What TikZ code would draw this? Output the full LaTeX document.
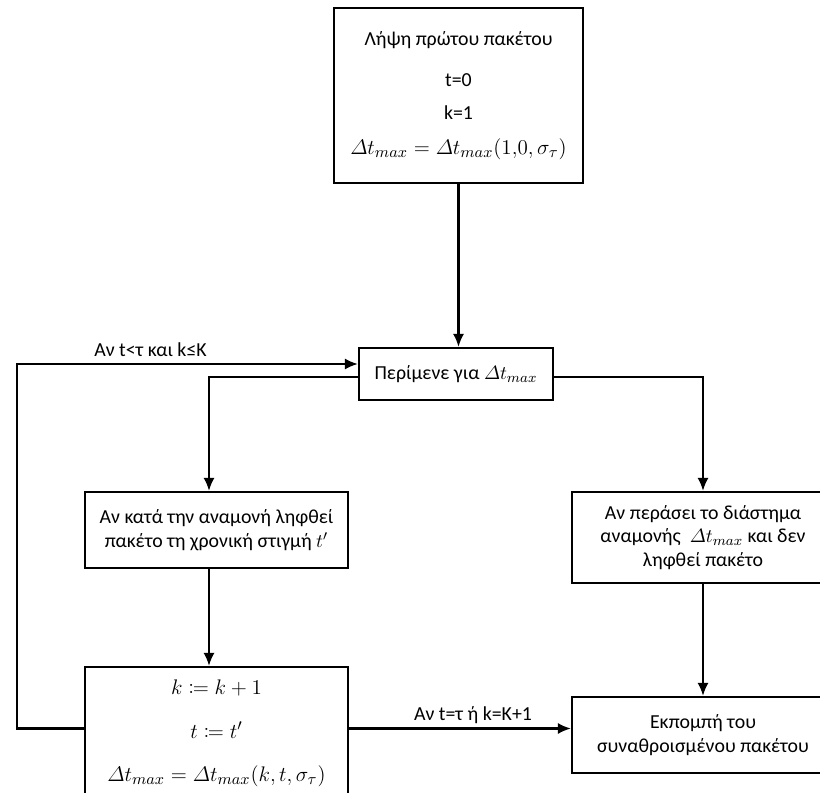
\documentclass[tikz,border=0pt]{standalone}
\usepackage{amsmath,mathtools}
\usepackage{fontspec}
\setmainfont{Carlito}
\usetikzlibrary{arrows.meta}
\newcommand{\dtmax}{\varDelta t_{max}}

\begin{document}
\begin{tikzpicture}[x=0.02cm,y=-0.02cm,font=\fontsize{11.3}{13.5}\selectfont]
\tikzset{box/.style = {shape=rectangle,draw,line width=1.2pt,align=center,inner sep=2pt},
         arr/.style = {line width=1.2pt,-{Latex[length=2.6mm,width=2.2mm]}},
         lbl/.style = {inner sep=1pt},
         bigmath/.style = {font=\fontsize{12.5}{14}\selectfont}}
\useasboundingbox (0,0) rectangle (820,793);
% boxes
\node[box,minimum width=4.98cm,minimum height=3.5cm] (start) at (458.5,95.5)
    {Λήψη πρώτου πακέτου\\[0.35cm] t=0\\[0.19cm] k=1\\[0.22cm]
     {\fontsize{13}{15}\selectfont$\dtmax=\dtmax(1{,}0,\sigma_\tau)$}};
\node[box,minimum width=3.88cm,minimum height=1.04cm] (wait) at (456,374)
    {Περίμενε για $\dtmax$};
\node[box,minimum width=5.26cm,minimum height=1.52cm] (recv) at (216.5,530)
    {Αν κατά την αναμονή ληφθεί\\ πακέτο τη χρονική στιγμή $t'$};
\node[box,minimum width=5.24cm,minimum height=1.82cm] (timeout) at (703,537.5)
    {Αν περάσει το διάστημα\\ αναμονής \ $\dtmax$ και δεν\\ ληφθεί πακέτο};
\node[box,bigmath,minimum width=5.26cm,minimum height=2.66cm] (update) at (216.5,733.5)
    {$k \coloneqq k+1$\\[0.38cm] $t \coloneqq t'$\\[0.38cm]
     $\dtmax=\dtmax(k,t,\sigma_\tau)$};
\node[box,minimum width=5.24cm,minimum height=1.52cm] (send) at (703,735)
    {Εκπομπή του\\ συναθροισμένου πακέτου};
% labels
\node[lbl] (again) at (150.5,350) {Αν t<τ και k≤K};
\node[lbl] (done) at (473,715) {Αν t=τ ή k=K+1};
\coordinate (loop) at (17,364);
% edges
\draw[arr] (start.south) -- (start.south |- wait.north);
\draw[arr] ([yshift=0.1cm]update.west) -| (loop) -- (loop -| wait.west);
\draw[arr] ([yshift=-0.06cm]wait.west) -| ([xshift=-0.15cm]recv.north);
\draw[arr] ([yshift=-0.06cm]wait.east) -| (timeout.north);
\draw[arr] ([xshift=-0.15cm]recv.south) -- ([xshift=-0.15cm]update.north);
\draw[arr] (timeout.south) -- (send.north);
\draw[arr] ([yshift=0.1cm]update.east) -- ([yshift=0.1cm]update.east -| send.west);
\end{tikzpicture}
\end{document}
